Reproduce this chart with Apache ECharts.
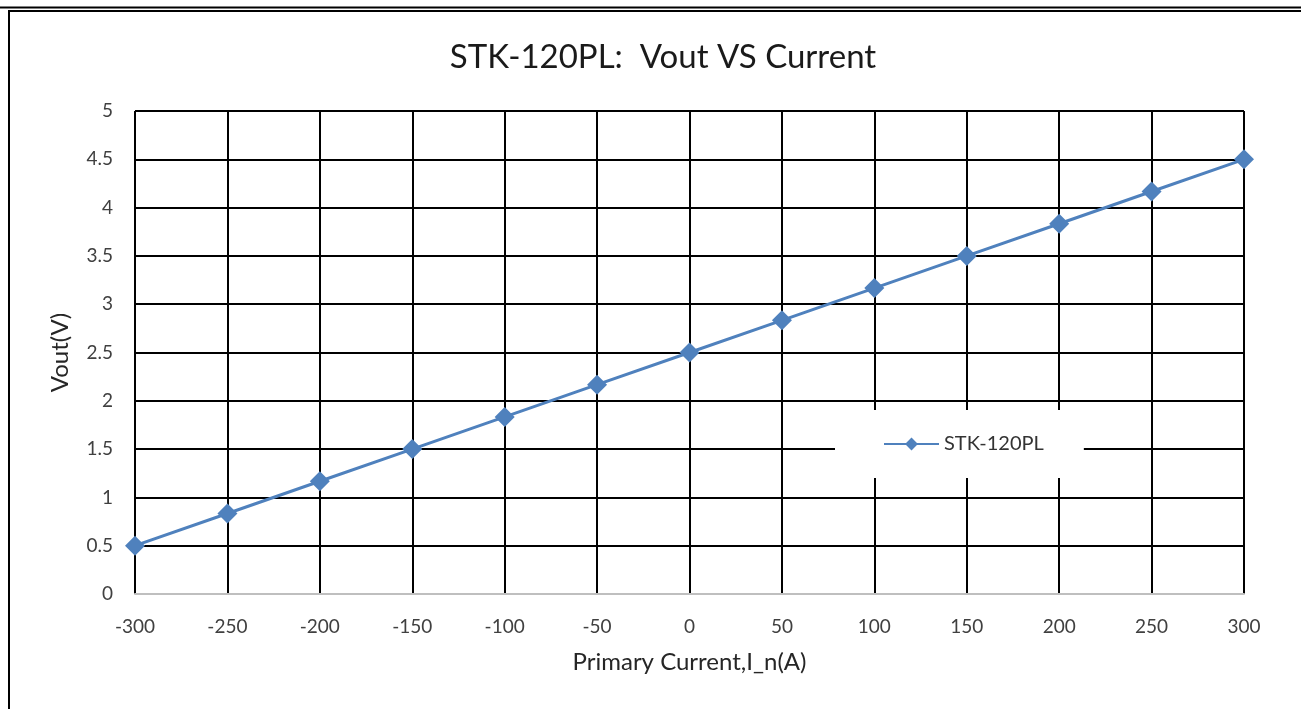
<!DOCTYPE html>
<html>
<head>
<meta charset="utf-8">
<script src="https://cdn.jsdelivr.net/npm/echarts@6/dist/echarts.min.js"></script>
<style>html,body{margin:0;padding:0;background:#fff;}#c{width:1301px;height:709px;}</style>
</head>
<body>
<div id="c"></div>
<script>
const currents = [-300, -250, -200, -150, -100, -50, 0, 50, 100, 150, 200, 250, 300];
const vout = [0.5, 0.833, 1.167, 1.5, 1.833, 2.167, 2.5, 2.833, 3.167, 3.5, 3.833, 4.167, 4.5];
const seriesName = 'STK-120PL';
const titleText = 'STK-120PL:  Vout VS Current';
const xName = 'Primary Current,I_n(A)';
const yName = 'Vout(V)';

const font = 'Lato, "Open Sans", sans-serif';
const chart = echarts.init(document.getElementById('c'));
chart.setOption({
  animation: false,
  backgroundColor: '#fff',
  title: {
    text: titleText, left: 658, top: 36, textAlign: 'center',
    textStyle: { fontFamily: font, fontSize: 33, fontWeight: 'normal', color: '#1a1a1a' }
  },
  grid: { left: 135, right: 57, top: 111, bottom: 115, containLabel: false },
  legend: {
    data: [seriesName], left: 835, top: 410, width: 210,
    padding: [24, 40, 24, 48],
    backgroundColor: '#fff',
    itemWidth: 55, itemHeight: 16, itemGap: 4,
    textStyle: { fontFamily: font, fontSize: 20, color: '#333' }
  },
  xAxis: {
    type: 'value', min: -300, max: 300, interval: 50,
    name: xName, nameLocation: 'middle', nameGap: 56,
    nameTextStyle: { fontFamily: font, fontSize: 24, color: '#262626' },
    axisLine: { show: true, onZero: false, lineStyle: { color: '#bfbfbf', width: 2 } },
    axisTick: { show: false },
    axisLabel: { fontFamily: font, fontSize: 19, color: '#404040', margin: 23 },
    splitLine: { show: true, lineStyle: { color: '#000', width: 2 } }
  },
  yAxis: {
    type: 'value', min: 0, max: 5, interval: 0.5,
    name: yName, nameLocation: 'middle', nameGap: 63,
    nameTextStyle: { fontFamily: font, fontSize: 24, color: '#262626' },
    axisLine: { show: false },
    axisTick: { show: false },
    axisLabel: { fontFamily: font, fontSize: 19, color: '#404040', margin: 22 },
    splitLine: { show: true, lineStyle: { color: '#000', width: 2 } }
  },
  series: [{
    name: seriesName, type: 'line',
    data: currents.map((c, i) => [c, vout[i]]),
    symbol: 'diamond', symbolSize: 20,
    lineStyle: { color: '#4f81bd', width: 3 },
    itemStyle: { color: '#4f81bd' },
    z: 5
  }],
  graphic: [
    { type: 'line', shape: { x1: 0, y1: 7.5, x2: 1301, y2: 7.5 }, style: { stroke: '#000', lineWidth: 2 }, silent: true },
    { type: 'rect', shape: { x: 9, y: 11, width: 1400, height: 800 }, style: { fill: 'none', stroke: '#000', lineWidth: 2 }, silent: true }
  ]
});
</script>
</body>
</html>
